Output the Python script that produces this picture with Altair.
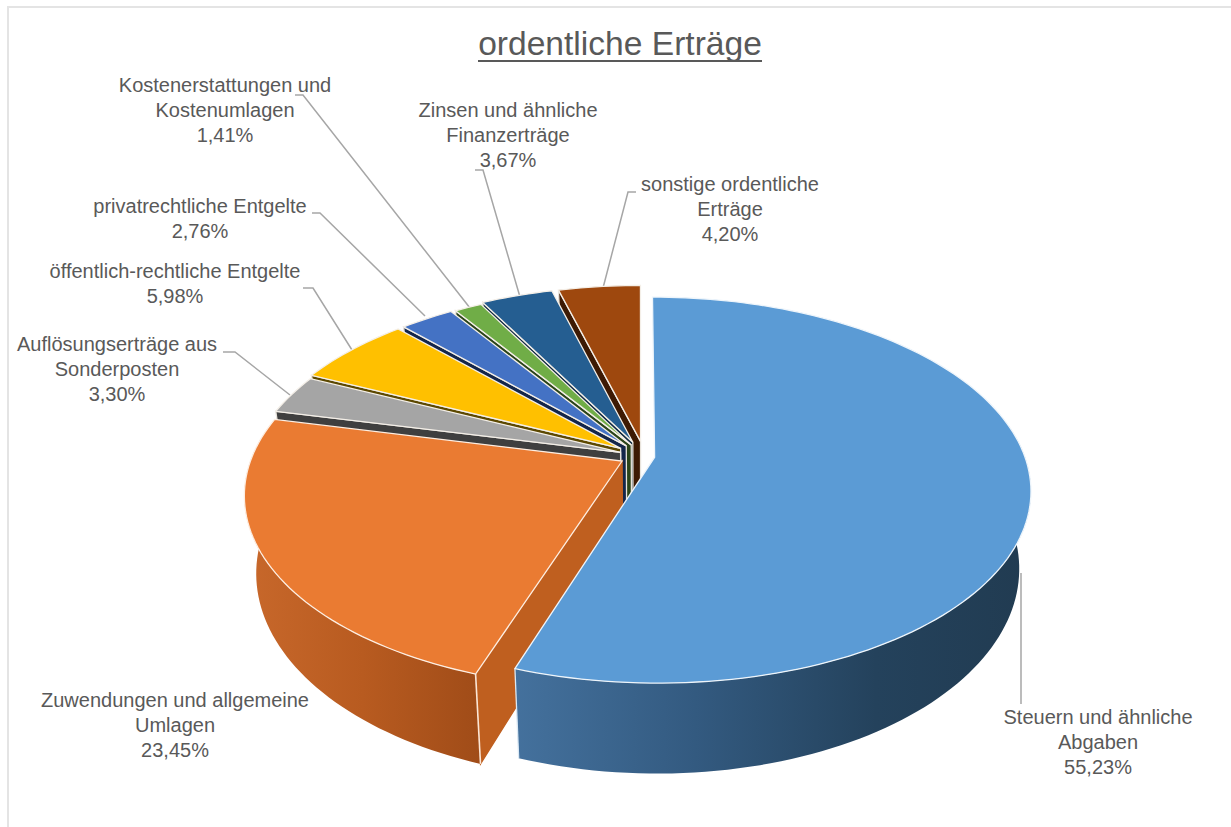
import math
import altair as alt

# Shares of ordinary income, clockwise from twelve o'clock
names = [
    "Steuern und ähnliche\nAbgaben",
    "Zuwendungen und allgemeine\nUmlagen",
    "Auflösungserträge aus\nSonderposten",
    "öffentlich-rechtliche Entgelte",
    "privatrechtliche Entgelte",
    "Kostenerstattungen und\nKostenumlagen",
    "Zinsen und ähnliche\nFinanzerträge",
    "sonstige ordentliche\nErträge",
]
shares = [55.23, 23.45, 3.30, 5.98, 2.76, 1.41, 3.67, 4.20]
title_text = "ordentliche Erträge"

# Slice styling
top_colors = ["#5b9bd5", "#ea7b32", "#a5a5a5", "#ffc000", "#4472c4", "#70ad47", "#255e91", "#9e480e"]
face_colors = ["#2f5478", "#bf5f1f", "#3f3f3f", "#5c4800", "#14264a", "#2a441a", "#0f2a42", "#3d1a04"]
explode = [0.04, 0.055, 0.06, 0.07, 0.07, 0.07, 0.08, 0.08]
drift_u = [0, 0, 0.004, 0.004, 0.006, 0.012, 0.01, 0.012]

# Tilted-disc projection
CX, CY = 640.0, 456.0
RX, RY, TILT = 370.0, 187.0, 0.17
WALL, BOTTOM_SHRINK = 75.0, 0.97
SIL_RIGHT, SIL_LEFT = 80.0, 280.0

# Label placement: first-line centres and leader polylines
label_x = [1098, 175, 117, 175, 200, 225, 508, 730]
label_y = [718, 701, 345, 272, 207, 86, 111, 185]
leaders = [
    [(1021, 573), (1021, 704)],
    [(223, 352), (235, 352), (290, 395)],
    [(303, 288), (313, 288), (352, 350)],
    [(312, 213), (320, 213), (425, 316)],
    [(295, 95), (303, 95), (470, 308)],
    [(475, 170), (483, 170), (520, 297)],
    [(636, 192), (628, 192), (603, 288)],
]
frame = [(8, 827), (8, 7), (1231, 7)]
underline = [(478, 61), (762, 61)]


def project(u, v):
    w = 1 - TILT * v
    return CX + RX * u / w, CY + RY * v / w


def lower(u, v):
    x, y = project(u, v)
    return CX + (x - CX) * BOTTOM_SHRINK, y + WALL / (1 - TILT * v)


def polygon(points, fill, stroke="none"):
    ring = [[round(x, 2), round(y, 2)] for x, y in points]
    ring.append(ring[0])
    return {"type": "Feature", "geometry": {"type": "Polygon", "coordinates": [ring]},
            "properties": {"fill": fill, "stroke": stroke}}


def line(points, stroke="#a6a6a6"):
    return {"type": "Feature",
            "geometry": {"type": "LineString", "coordinates": [[x, y] for x, y in points]},
            "properties": {"stroke": stroke}}


slices = []
running = 0.0
for share, exp, drift in zip(shares, explode, drift_u):
    t0 = running * 3.6
    running += share
    t1 = running * 3.6
    mid = math.radians((t0 + t1) / 2)
    slices.append((t0, t1, exp * math.sin(mid) + drift, -exp * math.cos(mid)))


def rim(i, a, b):
    _, _, du, dv = slices[i]
    n = max(2, int(abs(b - a) / 1.5) + 1)
    out = []
    for k in range(n + 1):
        t = math.radians(a + (b - a) * k / n)
        out.append((du + math.sin(t), dv - math.cos(t)))
    return out


def top(i, stroke):
    t0, t1, du, dv = slices[i]
    pts = [project(du, dv)] + [project(u, v) for u, v in rim(i, t0, t1)]
    return polygon(pts, top_colors[i], stroke)


def start_face(i, stroke):
    t0, _, du, dv = slices[i]
    u, v = rim(i, t0, t0 + 1)[0]
    return polygon([project(du, dv), project(u, v), lower(u, v), lower(du, dv)], face_colors[i], stroke)


def wall(i, a, b):
    arc = rim(i, a, b)
    return polygon([project(u, v) for u, v in arc] + [lower(u, v) for u, v in reversed(arc)], "none")


def corner(i, stroke):
    t0, t1, _, _ = slices[i]
    u, v = rim(i, t0, t1)[-1 if i == 0 else 0]
    return line([project(u, v), lower(u, v)], stroke)


PROJ = alt.Projection(type="identity", scale=1, translate=[0, 0])


def filled_shapes(features):
    return alt.Chart(alt.Data(values=features)).mark_geoshape(strokeWidth=1.3).encode(
        fill=alt.Fill("properties.fill:N", scale=None),
        stroke=alt.Stroke("properties.stroke:N", scale=None),
    ).project(**PROJ.to_dict())


def gradient_wall(feature, stops):
    fill = alt.LinearGradient(
        gradient="linear", x1=0, x2=1, y1=0, y2=0,
        stops=[alt.GradientStop(color=c, offset=o) for o, c in stops],
    )
    return alt.Chart(alt.Data(values=[feature])).mark_geoshape(fill=fill, stroke="#ffffff", strokeWidth=0).project(**PROJ.to_dict())


def strokes(features, width=1.5):
    return alt.Chart(alt.Data(values=features)).mark_geoshape(filled=False, strokeWidth=width).encode(
        stroke=alt.Stroke("properties.stroke:N", scale=None),
    ).project(**PROJ.to_dict())


# Back slices first, so nearer ones paint over their side faces
back = []
for i in range(7, 1, -1):
    back.append(start_face(i, "#e9e4dc"))
    back.append(top(i, "#f4efe8"))

orange_wall = wall(1, slices[1][0], SIL_LEFT)
blue_wall = wall(0, SIL_RIGHT, slices[0][1])

layers = [
    strokes([line(frame, "#e4e4e4")], 2),
    strokes([line(pts) for pts in leaders], 1.5),
    filled_shapes(back),
    filled_shapes([start_face(1, "#bf5f1f")]),
    gradient_wall(orange_wall, [(0, "#c8682b"), (0.5, "#b85b20"), (1, "#a04c18")]),
    strokes([corner(1, "#fbe6d6")], 1.6),
    filled_shapes([top(1, "#fdeee2")]),
    gradient_wall(blue_wall, [(0, "#44719d"), (0.35, "#335a80"), (0.7, "#24425c"), (1, "#213b51")]),
    strokes([corner(0, "#dbe9f5")], 1.3),
    filled_shapes([top(0, "#eef5fb")]),
]

labels = [
    {"text": f"{n}\n{s:.2f}%".replace(".", ","), "x": x, "y": y}
    for n, s, x, y in zip(names, shares, label_x, label_y)
]
label_layer = alt.Chart(alt.Data(values=labels)).mark_text(
    font="Liberation Sans", fontSize=20, color="#595959", align="center",
    baseline="middle", lineBreak="\n", lineHeight=25,
).encode(
    x=alt.X("x:Q", scale=None), y=alt.Y("y:Q", scale=None), text="text:N",
)
title_layer = alt.Chart(alt.Data(values=[{"text": title_text, "x": 620, "y": 45}])).mark_text(
    font="Liberation Sans", fontSize=33.6, color="#595959", align="center", baseline="middle",
).encode(
    x=alt.X("x:Q", scale=None), y=alt.Y("y:Q", scale=None), text="text:N",
)

chart = alt.layer(
    *layers,
    strokes([line(underline, "#595959")], 2),
    label_layer,
    title_layer,
).properties(
    width=1231, height=827, padding=0, background="white",
    autosize=alt.AutoSizeParams(type="none"),
).configure_view(stroke=None)

chart.save("out.html", embed_options={"renderer": "svg", "actions": False})
